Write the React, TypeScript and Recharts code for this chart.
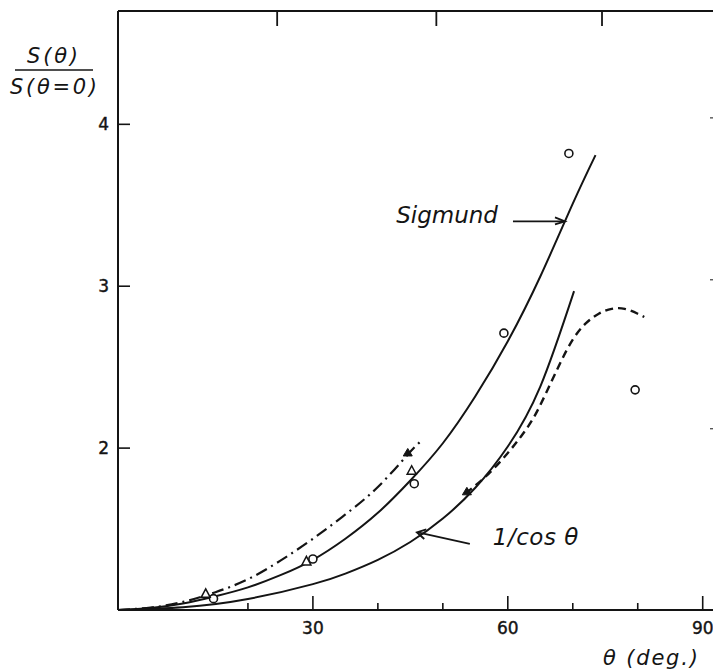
import React from "react";
import { ComposedChart, Line, Scatter, XAxis, YAxis, ReferenceDot } from "recharts";

const FONT = "'DejaVu Sans', 'Liberation Sans', sans-serif";
const INK = "#141414";

// layout
const CHART_W = 713;
const CHART_H = 664;
const MARGIN_TOP = 2;
const TOP_AXIS_H = 1;
const BOTTOM_AXIS_H = 62;
const PLOT_H = CHART_H - MARGIN_TOP - TOP_AXIS_H - BOTTOM_AXIS_H;

// axes
const X_MAX = 92.2;
const Y_MIN = 1;
const Y_MAX = 4.7;
const xTicks = [20, 30, 40, 50, 60, 70, 80, 90];
const xLabeled = [30, 60, 90];
const yTicks = [2, 3, 4];
const topTicks = [24.5, 49, 74.5];
const rightTicks = [2.12, 3.04, 4.04];

// Sigmund theory (solid)
const sigmundTheta = [0, 5, 10, 15, 20, 25, 30, 35, 40, 45, 50, 55, 60, 65, 70, 73.5];
const sigmundS = [1.0, 1.012, 1.04, 1.085, 1.14, 1.215, 1.31, 1.44, 1.6, 1.8, 2.03, 2.32, 2.66, 3.06, 3.51, 3.81];

// 1/cos theta (solid)
const invCosTheta = [0, 10, 20, 30, 35, 40, 45, 50, 55, 60, 65, 70.2];
const invCosS = [1.0, 1.017, 1.068, 1.16, 1.225, 1.31, 1.42, 1.565, 1.755, 2.01, 2.38, 2.97];

// dash-dot curve
const dashDotTheta = [0, 5, 10, 15, 20, 25, 30, 35, 40, 44.6, 46.8];
const dashDotS = [1.0, 1.015, 1.05, 1.11, 1.19, 1.305, 1.44, 1.59, 1.76, 1.96, 2.05];

// dashed curve
const dashedTheta = [53.5, 57, 60, 62, 64, 66, 68, 70, 72, 74, 76, 78, 80, 81];
const dashedS = [1.72, 1.84, 1.97, 2.07, 2.19, 2.35, 2.52, 2.67, 2.77, 2.83, 2.86, 2.86, 2.83, 2.81];

// measured points
const circleTheta = [14.7, 30, 45.6, 59.4, 69.4, 79.6];
const circleS = [1.07, 1.315, 1.78, 2.71, 3.82, 2.36];
const openTriTheta = [13.5, 29, 45.2];
const openTriS = [1.1, 1.3, 1.86];
const filledTriTheta = [44.6, 53.7];
const filledTriS = [1.97, 1.73];

const zip = (t: number[], s: number[]) => t.map((theta, i) => ({ theta, s: s[i] }));
const sigmundData = zip(sigmundTheta, sigmundS);
const invCosData = zip(invCosTheta, invCosS);
const dashDotData = zip(dashDotTheta, dashDotS);
const dashedData = zip(dashedTheta, dashedS);
const circleData = zip(circleTheta, circleS);
const openTriData = zip(openTriTheta, openTriS);
const filledTriData = zip(filledTriTheta, filledTriS);

const XTick = (p: any) => {
  const { x, y, payload } = p;
  const v = payload.value;
  const major = xLabeled.includes(v);
  return (
    <g>
      <line x1={x} x2={x} y1={y} y2={y - (major ? 14 : 7)} stroke={INK} strokeWidth={1.6} />
      {major && (
        <text x={x} y={y + 24} textAnchor="middle" fontSize={17} fontFamily={FONT} fill={INK} stroke={INK} strokeWidth={0.4}>
          {v}
        </text>
      )}
    </g>
  );
};

const YTick = (p: any) => {
  const { x, y, payload } = p;
  return (
    <g>
      <line x1={x} x2={x + 12} y1={y} y2={y} stroke={INK} strokeWidth={1.6} />
      <text x={x - 9} y={y + 6} textAnchor="end" fontSize={17} fontFamily={FONT} fill={INK} stroke={INK} strokeWidth={0.4}>
        {payload.value}
      </text>
    </g>
  );
};

const RightTick = (p: any) => {
  const { x, y } = p;
  return <line x1={x} x2={x - 7} y1={y} y2={y} stroke="#555" strokeWidth={1.4} />;
};

const TopTickMark = (p: any) => {
  const { cx, cy } = p;
  return (
    <path d={`M${cx},${cy - 6.5}L${cx},${cy + 8.5}`} stroke={INK} strokeWidth={1.8} fill="none" />
  );
};

const RightEdge = (p: any) => {
  const { cx, cy } = p;
  return (
    <path d={`M${cx},${cy - PLOT_H / 2}L${cx},${cy + PLOT_H / 2}`} stroke="#777" strokeWidth={1.4} fill="none" />
  );
};

const OpenCircle = (p: any) => (
  <circle cx={p.cx} cy={p.cy} r={4} fill="white" stroke={INK} strokeWidth={1.6} />
);
const OpenTri = (p: any) => (
  <polygon
    points={`${p.cx},${p.cy - 5} ${p.cx - 4.5},${p.cy + 3.5} ${p.cx + 4.5},${p.cy + 3.5}`}
    fill="white"
    stroke={INK}
    strokeWidth={1.5}
  />
);
const FilledTri = (p: any) => (
  <polygon
    points={`${p.cx},${p.cy - 4.5} ${p.cx - 4.5},${p.cy + 3} ${p.cx + 4.5},${p.cy + 3}`}
    fill={INK}
    stroke={INK}
    strokeWidth={1}
  />
);

const SigmundNote = (p: any) => {
  const { cx, cy } = p;
  return (
    <g>
      <line x1={cx - 52} y1={cy} x2={cx - 1} y2={cy} stroke={INK} strokeWidth={1.8} />
      <polyline points={`${cx - 10},${cy - 4} ${cx},${cy} ${cx - 10},${cy + 3}`} fill="none" stroke={INK} strokeWidth={1.8} />
      <text x={cx - 67} y={cy + 2} textAnchor="end" fontSize={23} fontStyle="italic" fontFamily={FONT} fill={INK}>
        Sigmund
      </text>
    </g>
  );
};

const InvCosNote = (p: any) => {
  const { cx, cy } = p;
  return (
    <g>
      <line x1={cx + 1} y1={cy} x2={cx + 53} y2={cy + 11.6} stroke={INK} strokeWidth={1.8} />
      <polyline points={`${cx + 7.4},${cy + 6.7} ${cx},${cy} ${cx + 9.5},${cy - 3}`} fill="none" stroke={INK} strokeWidth={1.8} />
      <text x={cx + 76} y={cy + 13} fontSize={23} fontStyle="italic" fontFamily={FONT} fill={INK} letterSpacing={0.5}>
        1/cos θ
      </text>
    </g>
  );
};

const YTitle = () => (
  <g fontFamily={FONT} fontStyle="italic" fill={INK}>
    <text x={19} y={55} fontSize={21} textLength={51} lengthAdjust="spacing">
      S(θ)
    </text>
    <line x1={7} x2={85} y1={62} y2={62} stroke={INK} strokeWidth={1.6} />
    <text x={2} y={86} fontSize={21} textLength={87} lengthAdjust="spacing">
      S(θ=0)
    </text>
  </g>
);

const XTitle = () => (
  <text x={595} y={657} fontSize={21} fontStyle="italic" fontFamily={FONT} fill={INK} textLength={95} lengthAdjust="spacing">
    θ (deg.)
  </text>
);

export default function App() {
  return (
    <ComposedChart width={CHART_W} height={CHART_H} margin={{ top: MARGIN_TOP, right: 3, bottom: 0, left: 0 }}>
      <XAxis
        dataKey="theta"
        type="number"
        domain={[0, X_MAX]}
        allowDataOverflow
        ticks={xTicks}
        interval={0}
        tickSize={0}
        tickMargin={0}
        tick={<XTick />}
        height={BOTTOM_AXIS_H}
        axisLine={{ stroke: INK, strokeWidth: 2 }}
        label={{ content: XTitle }}
      />
      <XAxis
        xAxisId="top"
        orientation="top"
        dataKey="theta"
        type="number"
        domain={[0, X_MAX]}
        allowDataOverflow
        tick={false}
        tickLine={false}
        height={TOP_AXIS_H}
        axisLine={{ stroke: INK, strokeWidth: 1.8 }}
      />
      <YAxis
        dataKey="s"
        type="number"
        domain={[Y_MIN, Y_MAX]}
        allowDataOverflow
        ticks={yTicks}
        interval={0}
        tickSize={0}
        tickMargin={0}
        tick={<YTick />}
        width={110}
        axisLine={{ stroke: INK, strokeWidth: 2 }}
        label={{ content: YTitle }}
      />
      <YAxis
        yAxisId="right"
        orientation="right"
        dataKey="s"
        type="number"
        domain={[Y_MIN, Y_MAX]}
        allowDataOverflow
        ticks={rightTicks}
        interval={0}
        tickSize={0}
        tickMargin={0}
        tick={<RightTick />}
        width={1}
        axisLine={false}
      />
      <Line data={sigmundData} dataKey="s" type="natural" stroke={INK} strokeWidth={2} dot={false} isAnimationActive={false} />
      <Line data={invCosData} dataKey="s" type="natural" stroke={INK} strokeWidth={2} dot={false} isAnimationActive={false} />
      <Line data={dashDotData} dataKey="s" type="natural" stroke={INK} strokeWidth={2.2} strokeDasharray="12 5 2 5" dot={false} isAnimationActive={false} />
      <Line data={dashedData} dataKey="s" type="natural" stroke={INK} strokeWidth={2.4} strokeDasharray="8 5" dot={false} isAnimationActive={false} />
      <Scatter data={circleData} dataKey="s" shape={OpenCircle} isAnimationActive={false} />
      <Scatter data={openTriData} dataKey="s" shape={OpenTri} isAnimationActive={false} />
      <Scatter data={filledTriData} dataKey="s" shape={FilledTri} isAnimationActive={false} />
      <ReferenceDot x={topTicks[0]} y={Y_MAX - 0.04} r={0} shape={TopTickMark} />
      <ReferenceDot x={topTicks[1]} y={Y_MAX - 0.04} r={0} shape={TopTickMark} />
      <ReferenceDot x={topTicks[2]} y={Y_MAX - 0.04} r={0} shape={TopTickMark} />
      <ReferenceDot x={X_MAX - 0.1} y={(Y_MIN + Y_MAX) / 2} r={0} shape={RightEdge} />
      <ReferenceDot x={68.8} y={3.4} r={0} shape={SigmundNote} />
      <ReferenceDot x={46.0} y={1.48} r={0} shape={InvCosNote} />
    </ComposedChart>
  );
}
